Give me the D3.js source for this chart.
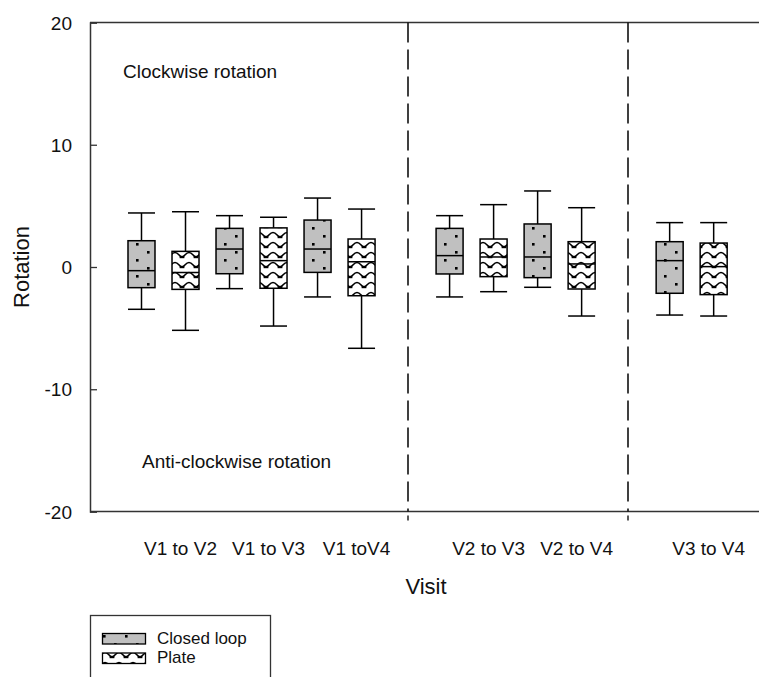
<!DOCTYPE html>
<html>
<head>
<meta charset="utf-8">
<script src="https://cdn.jsdelivr.net/npm/d3@7"></script>
<style>
  html, body { margin: 0; padding: 0; background: #fff; }
  svg { display: block; font-family: "Liberation Sans", Arial, sans-serif; }
</style>
</head>
<body>
<svg id="chart" width="759" height="677"></svg>
<script>
// ---- data ----
const categories = ["V1 to V2", "V1 to V3", "V1 toV4", "V2 to V3", "V2 to V4", "V3 to V4"];
const seriesNames = ["Closed loop", "Plate"];
// [lower whisker, Q1, median, Q3, upper whisker]
const closedLoop = [
  [-3.46, -1.69, -0.30, 2.15, 4.42],
  [-1.77, -0.55, 1.47, 3.16, 4.20],
  [-2.45, -0.44, 1.47, 3.84, 5.64],
  [-2.45, -0.57, 0.93, 3.16, 4.20],
  [-1.66, -0.87, 0.82, 3.52, 6.22],
  [-3.93, -2.15, 0.52, 2.07, 3.63]
];
const plate = [
  [-5.18, -1.83, -0.45, 1.28, 4.52],
  [-4.83, -1.74, 0.52, 3.20, 4.07],
  [-6.65, -2.35, 0.43, 2.29, 4.74],
  [-2.02, -0.79, 0.82, 2.29, 5.10],
  [-4.01, -1.80, 0.25, 2.07, 4.85],
  [-4.01, -2.26, 0.03, 1.96, 3.63]
];
const yTicks = [-20, -10, 0, 10, 20];
const categorySlots = [0, 2, 4, 7, 9, 12];   // slot of the closed-loop box in each category
const separatorSlots = [6, 11];
const annotations = ["Clockwise rotation", "Anti-clockwise rotation"];

// ---- layout ----
const svg = d3.select("#chart");
const pLeft = 90, pRight = 759, pTop = 22.5, pBottom = 511.5;
const y = d3.scaleLinear().domain([-20, 20]).range([pBottom, pTop]);
const x = d3.scaleLinear().domain([-1.17, 14.03]).range([pLeft, pRight]);
const boxW = 27;
const ink = "#111";

// ---- patterns ----
const defs = svg.append("defs");
const pd = defs.append("pattern").attr("id", "dots").attr("patternUnits", "userSpaceOnUse")
  .attr("width", 22).attr("height", 16);
pd.append("rect").attr("width", 22).attr("height", 16).attr("fill", "#c0c0c0");
pd.append("rect").attr("x", 4).attr("y", 3).attr("width", 2.6).attr("height", 2.6).attr("fill", "#000");
pd.append("rect").attr("x", 15).attr("y", 11).attr("width", 2.6).attr("height", 2.6).attr("fill", "#000");

const pw = defs.append("pattern").attr("id", "waves").attr("patternUnits", "userSpaceOnUse")
  .attr("width", 14).attr("height", 10);
pw.append("rect").attr("width", 14).attr("height", 10).attr("fill", "#fff");
pw.append("path").attr("d", "M0,7 C2.5,7 3.5,2.5 7,2.5 C10.5,2.5 11.5,7 14,7")
  .attr("fill", "none").attr("stroke", "#000").attr("stroke-width", 1.6);
pw.append("rect").attr("x", 0).attr("y", 5.8).attr("width", 2.4).attr("height", 2.4).attr("fill", "#000");
pw.append("rect").attr("x", 11.6).attr("y", 5.8).attr("width", 2.4).attr("height", 2.4).attr("fill", "#000");

// ---- frame ----
const frame = svg.append("g").attr("stroke", "#333").attr("stroke-width", 1.5).attr("fill", "none");
frame.append("line").attr("x1", pLeft).attr("x2", pRight + 5).attr("y1", pTop).attr("y2", pTop);
frame.append("line").attr("x1", pLeft).attr("x2", pRight + 5).attr("y1", pBottom).attr("y2", pBottom);

// y axis
const yAxis = svg.append("g").attr("transform", `translate(${pLeft},0)`)
  .call(d3.axisRight(y).tickValues(yTicks).tickSize(7).tickFormat(d => String(d)));
yAxis.select(".domain").attr("stroke", "#333").attr("stroke-width", 1.5);
yAxis.selectAll(".tick line").attr("stroke", "#333").attr("stroke-width", 1.3);
yAxis.selectAll(".tick text").attr("x", -18).attr("text-anchor", "end")
  .attr("font-size", 19).attr("fill", ink).attr("font-family", "Liberation Sans, Arial, sans-serif")
  .attr("dy", "0.35em");

// separators
separatorSlots.forEach(s => {
  const sx = Math.round(x(s)) + 2;
  svg.append("line").attr("x1", sx).attr("x2", sx).attr("y1", pTop).attr("y2", pBottom)
    .attr("stroke", "#111").attr("stroke-width", 1.6).attr("stroke-dasharray", "20,7");
  svg.append("line").attr("x1", sx).attr("x2", sx).attr("y1", pBottom + 4).attr("y2", pBottom + 9)
    .attr("stroke", "#111").attr("stroke-width", 1.4);
});

// ---- boxes ----
function drawBox(stats, cx, fillId) {
  const [lo, q1, med, q3, hi] = stats;
  const g = svg.append("g").attr("stroke", "#000").attr("stroke-width", 1.5);
  g.append("line").attr("x1", cx).attr("x2", cx).attr("y1", y(hi)).attr("y2", y(q3));
  g.append("line").attr("x1", cx).attr("x2", cx).attr("y1", y(q1)).attr("y2", y(lo));
  g.append("line").attr("x1", cx - boxW / 2).attr("x2", cx + boxW / 2).attr("y1", y(hi)).attr("y2", y(hi));
  g.append("line").attr("x1", cx - boxW / 2).attr("x2", cx + boxW / 2).attr("y1", y(lo)).attr("y2", y(lo));
  g.append("rect").attr("x", cx - boxW / 2).attr("y", y(q3)).attr("width", boxW)
    .attr("height", y(q1) - y(q3)).attr("fill", `url(#${fillId})`);
  g.append("line").attr("x1", cx - boxW / 2).attr("x2", cx + boxW / 2).attr("y1", y(med)).attr("y2", y(med));
}
categories.forEach((c, i) => {
  drawBox(closedLoop[i], x(categorySlots[i]), "dots");
  drawBox(plate[i], x(categorySlots[i] + 1), "waves");
});

// category labels
svg.append("g").selectAll("text").data(categories).join("text")
  .attr("x", (d, i) => x(categorySlots[i] + 1) - 5)
  .attr("y", 555).attr("text-anchor", "middle").attr("font-size", 19).attr("fill", ink)
  .text(d => d);

// axis titles
svg.append("text").attr("x", 426).attr("y", 594).attr("text-anchor", "middle")
  .attr("font-size", 22).attr("fill", ink).text("Visit");
svg.append("text").attr("transform", "translate(29,267) rotate(-90)").attr("text-anchor", "middle")
  .attr("font-size", 22).attr("fill", ink).text("Rotation");

// annotations
svg.append("text").attr("x", 123).attr("y", 78).attr("font-size", 19).attr("fill", ink).text(annotations[0]);
svg.append("text").attr("x", 142).attr("y", 468).attr("font-size", 19).attr("fill", ink).text(annotations[1]);

// ---- legend ----
const lg = svg.append("g");
lg.append("rect").attr("x", 90.5).attr("y", 615.5).attr("width", 180).attr("height", 80)
  .attr("fill", "#fff").attr("stroke", "#333").attr("stroke-width", 1.3);
const fills = ["dots", "waves"];
seriesNames.forEach((n, i) => {
  const yy = 633.5 + i * 19.5;
  lg.append("rect").attr("x", 102.5).attr("y", yy).attr("width", 43).attr("height", 10.5)
    .attr("fill", `url(#${fills[i]})`).attr("stroke", "#000").attr("stroke-width", 1.3);
  lg.append("text").attr("x", 157).attr("y", yy + 10).attr("font-size", 17).attr("fill", ink).text(n);
});
</script>
</body>
</html>
